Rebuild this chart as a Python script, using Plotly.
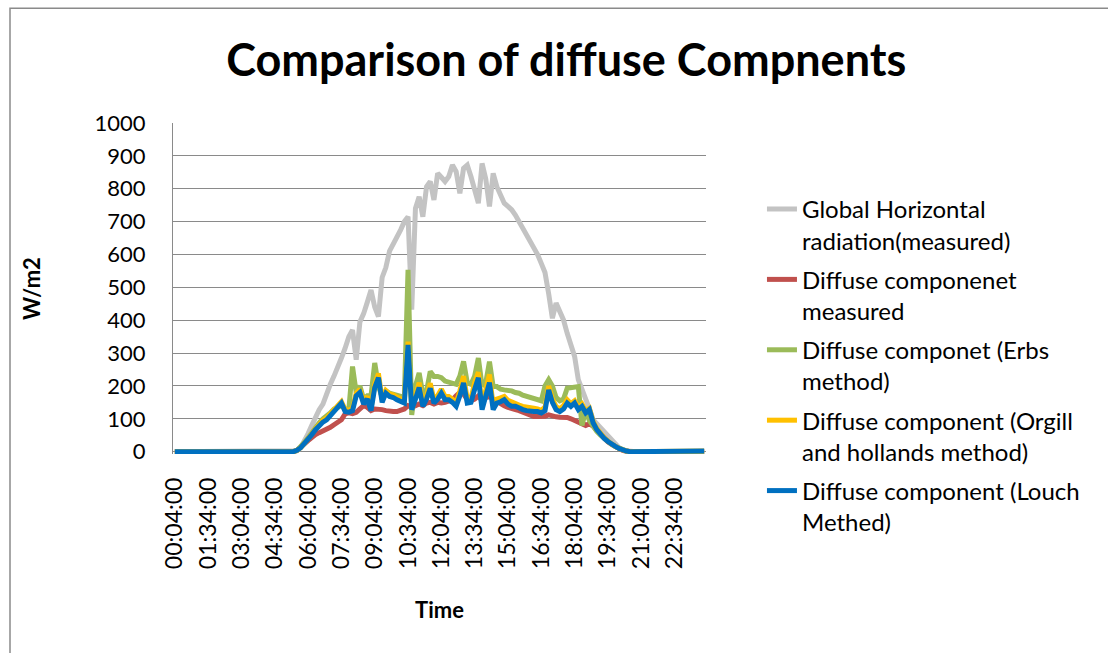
import plotly.graph_objects as go

# x tick labels (every 9th sample, samples every 10 minutes from 00:04)
tick_labels = ["00:04:00", "01:34:00", "03:04:00", "04:34:00", "06:04:00", "07:34:00",
               "09:04:00", "10:34:00", "12:04:00", "13:34:00", "15:04:00", "16:34:00",
               "18:04:00", "19:34:00", "21:04:00", "22:34:00"]

ghi = [0, 0, 0, 0, 0, 0, 0, 0, 0, 0, 0, 0, 0, 0, 0, 0, 0, 0, 0, 0, 0, 0, 0, 0, 0, 0, 0, 0, 0, 0, 0, 0, 0,
       3, 12, 30, 55, 80, 105, 128, 145, 180, 205,
       230, 255, 285, 315, 350, 370, 280, 395, 420, 455,
       492, 440, 411, 530, 560, 610, 630, 650, 675, 700,
       715, 432, 740, 776, 715, 806, 822, 766, 847, 835,
       822, 837, 872, 852, 786, 862, 872, 837, 800, 756,
       877, 830, 746, 847, 806, 780, 756, 746, 736, 720,
       700, 680, 665, 645, 624, 600, 573, 545, 480, 406,
       452, 430, 401, 360, 330, 290, 219, 190, 168, 130,
       97, 85, 68, 58, 45, 32, 20, 12, 6, 2,
       0, 0, 0, 0, 0, 0, 0, 0, 0, 0, 0, 0, 0, 0, 0, 0, 0, 0, 0, 0, 0]

diffuse_measured = [0, 0, 0, 0, 0, 0, 0, 0, 0, 0, 0, 0, 0, 0, 0, 0, 0, 0, 0, 0, 0, 0, 0, 0, 0, 0, 0, 0, 0, 0, 0, 0, 0,
                    4, 12, 24, 34, 45, 52, 58, 63, 67, 74,
                    82, 90, 97, 115, 118, 116, 120, 130, 140, 135,
                    125, 130, 130, 128, 125, 122, 122, 122, 125, 130,
                    140, 135, 140, 145, 140, 148, 150, 145, 150, 148,
                    150, 155, 158, 170, 180, 175, 160, 155, 160, 170,
                    155, 165, 168, 160, 152, 145, 140, 135, 130, 128,
                    125, 120, 115, 110, 107, 107, 106, 108, 112, 108,
                    106, 105, 105, 104, 100, 95, 90, 85, 80, 85,
                    78, 65, 52, 40, 30, 22, 15, 9, 4, 1,
                    0, 0, 0, 0, 0, 0, 0, 0, 0, 0, 0, 0, 0, 0, 0, 0, 0, 0, 0, 0, 0]

erbs = [0, 0, 0, 0, 0, 0, 0, 0, 0, 0, 0, 0, 0, 0, 0, 0, 0, 0, 0, 0, 0, 0, 0, 0, 0, 0, 0, 0, 0, 0, 0, 0, 0,
        4, 14, 28, 42, 58, 75, 88, 100, 108, 118,
        130, 135, 140, 130, 128, 259, 180, 200, 160, 170,
        170, 270, 200, 165, 185, 178, 175, 170, 168, 165,
        553, 112, 200, 240, 175, 185, 244, 229, 229, 225,
        215, 212, 208, 205, 230, 275, 210, 205, 230, 285,
        200, 210, 274, 198, 198, 190, 188, 188, 185, 180,
        178, 172, 168, 165, 160, 158, 155, 200, 219, 200,
        165, 155, 160, 193, 195, 195, 198, 80, 125, 95,
        75, 62, 50, 40, 31, 23, 16, 10, 5, 2,
        0, 0, 0, 0, 0, 0, 0, 0, 0, 0, 0, 0, 0, 0, 0, 0, 0, 0, 0, 0, 0]

orgill = [0, 0, 0, 0, 0, 0, 0, 0, 0, 0, 0, 0, 0, 0, 0, 0, 0, 0, 0, 0, 0, 0, 0, 0, 0, 0, 0, 0, 0, 0, 0, 0, 0,
          4, 12, 25, 37, 54, 70, 84, 95, 103, 115,
          130, 140, 152, 128, 126, 132, 178, 190, 152, 168,
          132, 205, 238, 158, 186, 176, 173, 166, 160, 156,
          335, 135, 170, 210, 148, 170, 208, 158, 170, 190,
          168, 168, 160, 148, 185, 230, 160, 162, 210, 242,
          140, 190, 235, 140, 160, 164, 168, 156, 150, 148,
          142, 138, 135, 132, 132, 130, 126, 135, 200, 160,
          137, 130, 140, 158, 146, 155, 135, 145, 124, 132,
          92, 70, 55, 42, 32, 23, 16, 10, 5, 2,
          0, 0, 0, 0, 0, 0, 0, 0, 0, 0, 1, 1, 1, 1, 1, 2, 2, 2, 2, 2, 2]

louch = [0, 0, 0, 0, 0, 0, 0, 0, 0, 0, 0, 0, 0, 0, 0, 0, 0, 0, 0, 0, 0, 0, 0, 0, 0, 0, 0, 0, 0, 0, 0, 0, 0,
         4, 12, 25, 36, 52, 67, 80, 90, 97, 110,
         125, 135, 148, 122, 120, 125, 170, 180, 145, 160,
         125, 195, 225, 150, 178, 168, 165, 158, 152, 148,
         325, 128, 160, 195, 138, 160, 193, 148, 160, 178,
         158, 158, 150, 138, 170, 209, 148, 150, 190, 225,
         128, 175, 210, 128, 148, 152, 158, 145, 138, 138,
         132, 128, 125, 122, 122, 122, 118, 125, 188, 150,
         128, 122, 130, 148, 138, 148, 128, 138, 118, 128,
         88, 67, 52, 40, 31, 22, 16, 10, 5, 2,
         0, 0, 0, 0, 0, 0, 0, 0, 0, 0, 1, 1, 1, 1, 1, 2, 2, 2, 2, 2, 2]

series_names = ["Global Horizontal<br>radiation(measured)",
                "Diffuse componenet<br>measured",
                "Diffuse componet (Erbs<br>method)",
                "Diffuse component (Orgill<br>and hollands method)",
                "Diffuse component (Louch<br>Methed)"]
series_colors = ["#C3C3C3", "#C0504D", "#9BBB59", "#FFC000", "#0070C0"]
series_data = [ghi, diffuse_measured, erbs, orgill, louch]

x_idx = list(range(len(ghi)))
label_step = 9
tick_positions = [i * label_step for i in range(len(tick_labels))]

FONT = "Lato"
fig = go.Figure()
for k, (name, col, vals) in enumerate(zip(series_names, series_colors, series_data)):
    fig.add_trace(go.Scatter(x=x_idx, y=vals, mode="lines", name=name, legendgroup=f"g{k}",
                             line=dict(color=col, width=5)))

fig.update_layout(
    width=1108, height=653,
    margin=dict(l=173, r=402, t=123, b=199),
    paper_bgcolor="white", plot_bgcolor="white",
    font=dict(family=FONT, size=22, color="black"),
    title=dict(text="<b>Comparison of diffuse Compnents</b>", x=0.511, xanchor="center",
               y=0.908, yanchor="middle", font=dict(family=FONT, size=45, color="black")),
    showlegend=True,
    legend=dict(x=1.105, xanchor="left", y=0.807, yanchor="top", valign="top",
                font=dict(family=FONT, size=24, color="black"), maxheight=600,
                bgcolor="rgba(0,0,0,0)", tracegroupgap=5),
    xaxis=dict(range=[-0.5, len(ghi) - 0.5], tickmode="array", tickvals=tick_positions,
               ticktext=tick_labels, tickangle=-90, showgrid=False, zeroline=False,
               showline=False, ticks="", ticklabelstandoff=18,
               tickfont=dict(family=FONT, size=23, color="black"),
               title=dict(text="<b>Time</b>", font=dict(family=FONT, size=22, color="black"), standoff=34)),
    yaxis=dict(range=[-7, 1000], tickmode="array", tickvals=list(range(0, 1001, 100)),
               showgrid=True, gridcolor="#8A8A8A", gridwidth=1.3,
               zeroline=True, zerolinecolor="#8A8A8A", zerolinewidth=1.3,
               showline=True, linecolor="#8A8A8A", linewidth=1.3, ticks="",
               ticklabelstandoff=22,
               tickfont=dict(family=FONT, size=22, color="black"),
               title=dict(text="<b>W/m2</b>", font=dict(family=FONT, size=22, color="black"), standoff=47)),
    shapes=[dict(type="rect", xref="paper", yref="paper",
                 x0=(10 - 173) / 533, x1=(1130 - 173) / 533,
                 y0=(452 - 680) / 329, y1=(452 - 9) / 329,
                 line=dict(color="#8A8A8A", width=1.5), fillcolor="rgba(0,0,0,0)", layer="below")],
)

fig.write_html("out.html")
